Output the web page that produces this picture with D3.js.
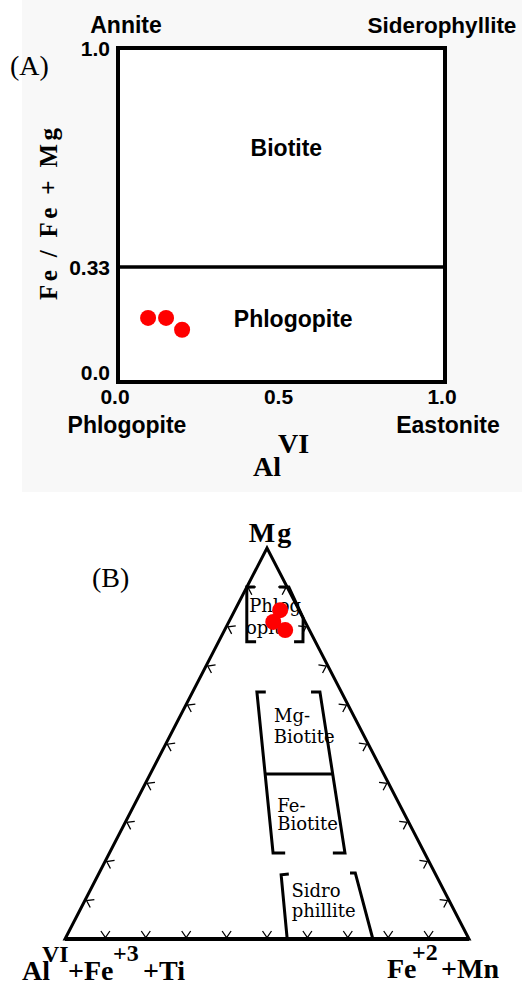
<!DOCTYPE html>
<html>
<head>
<meta charset="utf-8">
<script src="https://cdn.jsdelivr.net/npm/d3@7"></script>
<style>
  body { margin: 0; background: #fff; }
  svg { display: block; }
  .sans { font-family: "Liberation Sans", Arial, sans-serif; font-weight: bold; }
  .serif { font-family: "Liberation Serif", "Times New Roman", serif; }
  .field { font-family: "DejaVu Serif", serif; font-size: 18px; }
</style>
</head>
<body>
<svg id="chart" width="522" height="985"></svg>
<script>
// ---------- panel A data ----------
const aXTicks = [0, 0.5, 1.0];
const aXTickLabels = ['0.0', '0.5', '1.0'];
const aYTicks = [0, 0.33, 1.0];
const aYTickLabels = ['0.0', '0.33', '1.0'];
const aDivide = 0.33;
// AlVI , Fe/(Fe+Mg)
const aSamples = [[0.092, 0.184], [0.147, 0.184], [0.196, 0.150]];

// ---------- panel B data (ternary: [Mg, Fe2+Mn], rest = AlVI+Fe3+Ti) ----------
const bSamples = [[0.841, 0.112], [0.811, 0.110], [0.790, 0.150]];
const bTickSteps = [0.1, 0.2, 0.3, 0.4, 0.5, 0.6, 0.7, 0.8, 0.9];
const phlogLeft = [[0.900, 0.020], [0.900, 0.000], [0.760, 0.070], [0.760, 0.093]];
const phlogRight = [[0.900, 0.080], [0.900, 0.104], [0.821, 0.179], [0.760, 0.209], [0.760, 0.187]];
const bioLeft = [[0.632, 0.181], [0.632, 0.159], [0.220, 0.405], [0.220, 0.435]];
const bioRight = [[0.632, 0.293], [0.632, 0.315], [0.220, 0.583], [0.220, 0.553]];
const bioDivide = [[0.422, 0.284], [0.422, 0.452]];
const sidLeft = [[0.166, 0.471], [0.164, 0.453], [0.000, 0.550]];
const sidRight = [[0.169, 0.621], [0.169, 0.634], [0.000, 0.762]];

const svg = d3.select('#chart');

/////////////////////////////
// PANEL A
/////////////////////////////
svg.append('rect')
    .attr('x', 22).attr('y', 0).attr('width', 500).attr('height', 492)
    .attr('fill', '#f8f8f8');

var x = d3.scaleLinear().domain([0, 1]).range([118, 445]);
var y = d3.scaleLinear().domain([0, aDivide, 1]).range([382, 267, 48]);

var gA = svg.append('g').attr('class', 'panelA');

gA.append('rect')
    .attr('x', x(0)).attr('y', y(1))
    .attr('width', x(1) - x(0)).attr('height', y(0) - y(1))
    .attr('fill', '#fff').attr('stroke', '#000').attr('stroke-width', 4);

gA.append('line')
    .attr('x1', x(0)).attr('x2', x(1))
    .attr('y1', y(aDivide)).attr('y2', y(aDivide))
    .attr('stroke', '#000').attr('stroke-width', 3.5);

gA.selectAll('.ytick')
    .data(aYTicks)
    .enter()
    .append('text')
        .attr('class', 'sans')
        .attr('x', x(0) - 8)
        .attr('y', (d) => Math.min(y(d) + 8, y(0) - 2))
        .attr('text-anchor', 'end')
        .attr('font-size', 21)
        .text((d, i) => aYTickLabels[i]);

gA.selectAll('.xtick')
    .data(aXTicks)
    .enter()
    .append('text')
        .attr('class', 'sans')
        .attr('x', (d) => x(d) - 3)
        .attr('y', y(0) + 22)
        .attr('text-anchor', 'middle')
        .attr('font-size', 21)
        .text((d, i) => aXTickLabels[i]);

const cornerA = [
    ['Annite', x(0) + 8, y(1) - 15, 23],
    ['Siderophyllite', x(1) - 3, y(1) - 15, 22.5],
    ['Phlogopite', x(0) + 9, y(0) + 51, 23],
    ['Eastonite', x(1) + 3, y(0) + 51, 23],
    ['Biotite', x(0.515), y(0.67), 23],
    ['Phlogopite', x(0.536), y(0.158), 23]
];
gA.selectAll('.corner')
    .data(cornerA)
    .enter()
    .append('text')
        .attr('class', 'sans')
        .attr('x', (d) => d[1])
        .attr('y', (d) => d[2])
        .attr('text-anchor', 'middle')
        .attr('font-size', (d) => d[3])
        .text((d) => d[0]);

// axis titles
gA.append('text')
    .attr('class', 'serif')
    .attr('font-weight', 'bold')
    .attr('font-size', 25)
    .attr('text-anchor', 'middle')
    .attr('textLength', 172)
    .attr('lengthAdjust', 'spacing')
    .attr('transform', 'translate(57,214) rotate(-90)')
    .text('Fe / Fe + Mg');

var alTitle = gA.append('text')
    .attr('class', 'serif')
    .attr('font-weight', 'bold')
    .attr('font-size', 28)
    .attr('x', 253).attr('y', 476);
alTitle.append('tspan').text('Al');
alTitle.append('tspan').attr('x', 278).attr('y', 453).text('VI');

gA.append('text')
    .attr('class', 'serif')
    .attr('font-size', 28)
    .attr('x', 10).attr('y', 75)
    .text('(A)');

gA.selectAll('.sample')
    .data(aSamples)
    .enter()
    .append('circle')
        .attr('cx', (d) => x(d[0]))
        .attr('cy', (d) => y(d[1]))
        .attr('r', 8)
        .attr('fill', '#ff0000');

/////////////////////////////
// PANEL B (ternary)
/////////////////////////////
var tx = d3.scaleLinear().domain([0, 1]).range([65, 469]);
var ty = d3.scaleLinear().domain([0, 1]).range([939, 548]);
const proj = (d) => [tx(d[1] + d[0] / 2), ty(d[0])];

var gB = svg.append('g').attr('class', 'panelB');
var line = d3.line();

const cornerAl = proj([0, 0]);
const cornerFe = proj([0, 1]);
const cornerMg = proj([1, 0]);

gB.append('path')
    .attr('d', line([cornerAl, cornerFe, cornerMg]) + 'Z')
    .attr('fill', 'none')
    .attr('stroke', '#000')
    .attr('stroke-width', 3)
    .attr('stroke-linejoin', 'miter');

gB.append('line')
    .attr('x1', cornerAl[0]).attr('x2', cornerFe[0])
    .attr('y1', cornerAl[1]).attr('y2', cornerFe[1])
    .attr('stroke', '#000').attr('stroke-width', 4);

// edge tick marks, little "v" pointing into the triangle
const centroid = [(cornerAl[0] + cornerFe[0] + cornerMg[0]) / 3, (cornerAl[1] + cornerFe[1] + cornerMg[1]) / 3];
const edges = [
    (s) => [0, s],        // bottom
    (s) => [s, 0],        // left
    (s) => [s, 1 - s]     // right
];
var ticks = [];
edges.forEach((edge) => {
    bTickSteps.forEach((s) => {
        const p = proj(edge(s));
        const q = proj(edge(s + 0.01));
        let t = [q[0] - p[0], q[1] - p[1]];
        const len = Math.hypot(t[0], t[1]);
        t = [t[0] / len, t[1] / len];
        let n = [-t[1], t[0]];
        if ((centroid[0] - p[0]) * n[0] + (centroid[1] - p[1]) * n[1] < 0) n = [-n[0], -n[1]];
        ticks.push([
            [p[0] + n[0] * 8 - t[0] * 4.5, p[1] + n[1] * 8 - t[1] * 4.5],
            [p[0] + n[0] * 1.5, p[1] + n[1] * 1.5],
            [p[0] + n[0] * 8 + t[0] * 4.5, p[1] + n[1] * 8 + t[1] * 4.5]
        ]);
    });
});
gB.selectAll('.tick')
    .data(ticks)
    .enter()
    .append('path')
        .attr('d', line)
        .attr('fill', 'none')
        .attr('stroke', '#000')
        .attr('stroke-width', 1.3);

// field boundaries
const fields = [phlogLeft, phlogRight, bioLeft, bioRight, bioDivide, sidLeft, sidRight];
gB.selectAll('.field-line')
    .data(fields)
    .enter()
    .append('path')
        .attr('d', (d) => line(d.map(proj)))
        .attr('fill', 'none')
        .attr('stroke', '#000')
        .attr('stroke-width', 3)
        .attr('stroke-linejoin', 'miter');

// field names
const fieldLabels = [
    ['Phlog', [0.836, 0.038]],
    ['opite', [0.780, 0.058]],
    ['Mg-', [0.555, 0.240]],
    ['Biotite', [0.502, 0.266]],
    ['Fe-', [0.325, 0.363]],
    ['Biotite', [0.279, 0.386]],
    ['Sidro', [0.107, 0.507]],
    ['phillite', [0.056, 0.533]]
];
gB.selectAll('.field-name')
    .data(fieldLabels)
    .enter()
    .append('text')
        .attr('class', 'field')
        .attr('x', (d) => proj(d[1])[0])
        .attr('y', (d) => proj(d[1])[1])
        .text((d) => d[0]);

gB.selectAll('.sample')
    .data(bSamples)
    .enter()
    .append('circle')
        .attr('cx', (d) => proj(d)[0])
        .attr('cy', (d) => proj(d)[1])
        .attr('r', 8)
        .attr('fill', '#ff0000');

// corner labels
gB.append('text')
    .attr('class', 'serif')
    .attr('font-weight', 'bold')
    .attr('font-size', 28)
    .attr('letter-spacing', 2)
    .attr('text-anchor', 'middle')
    .attr('x', cornerMg[0] + 4).attr('y', cornerMg[1] - 6)
    .text('Mg');

const leftLabel = [['Al', -43, 41, 28], ['VI', -23, 23, 24], ['+Fe', 3, 41, 28], ['+3', 48, 22, 24], ['+Ti', 78, 41, 28]];
const rightLabel = [['Fe', -82, 39, 28], ['+2', -57, 21, 24], ['+Mn', -28, 39, 28]];
[[cornerAl, leftLabel], [cornerFe, rightLabel]].forEach(([c, parts]) => {
    var t = gB.append('text')
        .attr('class', 'serif')
        .attr('font-weight', 'bold');
    t.selectAll('tspan')
        .data(parts)
        .enter()
        .append('tspan')
            .attr('x', (d) => c[0] + d[1])
            .attr('y', (d) => c[1] + d[2])
            .attr('font-size', (d) => d[3])
            .text((d) => d[0]);
});

gB.append('text')
    .attr('class', 'serif')
    .attr('font-size', 28)
    .attr('x', 92).attr('y', 587)
    .text('(B)');
</script>
</body>
</html>
